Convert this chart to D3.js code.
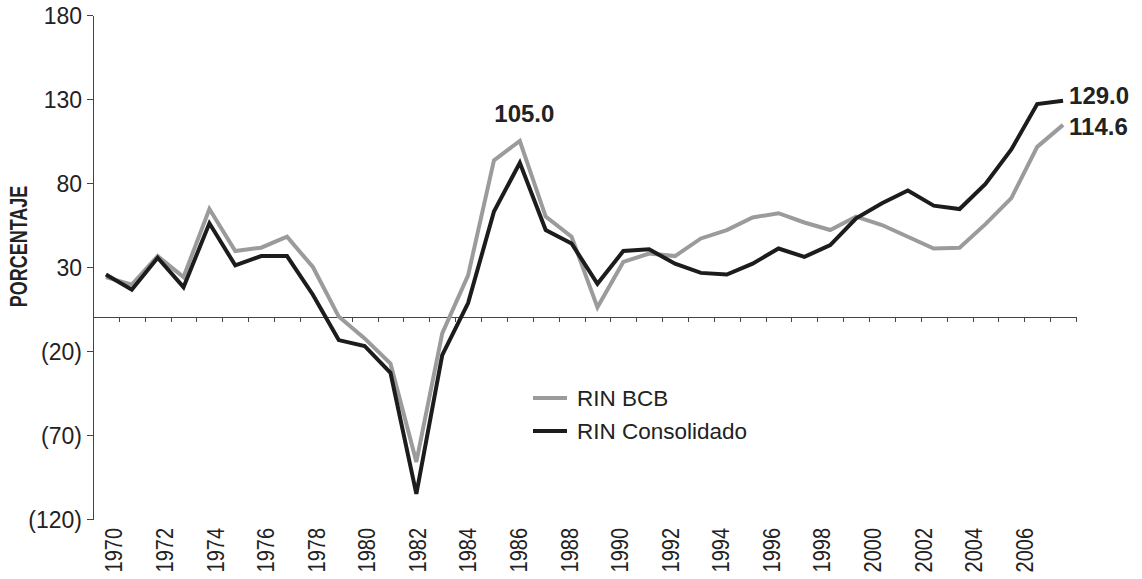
<!DOCTYPE html>
<html>
<head>
<meta charset="utf-8">
<title>RIN</title>
<script src="https://cdn.jsdelivr.net/npm/d3@7"></script>
<style>
  body { margin: 0; background: #fff; }
  svg text { font-family: "Liberation Sans", Arial, sans-serif; fill: #222; }
  .axis path, .axis line { stroke: #444; shape-rendering: crispEdges; }
</style>
</head>
<body>
<div id="chart"></div>
<script>

// years 1970 - 2007
var years = d3.range(1970, 2008);
var rinBCB = [24, 19.5, 36.5, 24, 64.5, 39.5, 41.5, 48, 30, 0.5, -12.5, -27.5, -86, -9.5, 25, 93.5, 105.0, 60, 48, 6, 33, 38, 36.5, 47, 52, 59.5, 62, 56.5, 52, 60, 55, 48, 41, 41.5, 55.5, 71, 101.5, 114.6];
var rinConsolidado = [25.5, 16.5, 35.5, 18, 56, 31, 36.5, 36.5, 13.5, -13.5, -17, -33, -105, -22.5, 8.5, 63, 92, 52, 44, 20, 39.5, 40.5, 32, 26.5, 25.5, 32, 41, 36, 43, 59, 68, 75.5, 66.5, 64.5, 79.5, 100, 127, 129.0];
var yTicks = [180, 130, 80, 30, -20, -70, -120];
var labelYears = d3.range(1970, 2007, 2);
var seriesNames = ["RIN BCB", "RIN Consolidado"];
var seriesColors = ["#9b9b9b", "#1c1c1c"];

var width = 1142;
var height = 579;

var svg = d3.select("#chart").append("svg")
  .attr("width", width)
  .attr("height", height);

var x = d3.scaleBand()
  .domain(years)
  .range([93, 1076]);
var bw = x.bandwidth();
function cx(yr) { return x(yr) + bw / 2; }

var y = d3.scaleLinear()
  .domain([-120, 180])
  .range([519, 15]);

// y axis
svg.append("g")
  .attr("class", "axis")
  .attr("transform", "translate(93,0)")
  .call(d3.axisLeft(y)
    .tickValues(yTicks)
    .tickSize(6)
    .tickPadding(5)
    .tickSizeOuter(0)
    .tickFormat(function(d) { return d < 0 ? "(" + (-d) + ")" : d; }))
  .call(function(g) {
    g.selectAll("text")
      .style("font-size", "23px")
      .attr("dy", "0.35em");
  });

// x axis at zero, ticks between categories
var edge = d3.scaleLinear().domain([0, years.length]).range(x.range());
svg.append("g")
  .attr("class", "axis")
  .attr("transform", "translate(0," + y(0) + ")")
  .call(d3.axisBottom(edge)
    .tickValues(d3.range(years.length + 1))
    .tickSize(5)
    .tickSizeOuter(0)
    .tickFormat(""));

// year labels (the original drifts slightly left of the categories)
var labelX = d3.scaleLinear()
  .domain([1970, 2006])
  .range([cx(1970) + 8, cx(2006) - 13]);

svg.append("g").selectAll("text")
  .data(labelYears)
  .enter()
  .append("text")
    .attr("transform", function(d) { return "translate(" + labelX(d) + ",528) scale(1.22,1) rotate(-90)"; })
    .attr("text-anchor", "end")
    .attr("dy", "0.35em")
    .style("font-size", "20px")
    .text(function(d) { return d; });

// axis title
svg.append("text")
  .attr("transform", "translate(18.5,246.5) scale(1.32,1) rotate(-90)")
  .attr("text-anchor", "middle")
  .attr("dy", "0.35em")
  .style("font-size", "18px")
  .style("font-weight", "bold")
  .text("PORCENTAJE");

// lines
var line = d3.line()
  .x(function(d, i) { return cx(years[i]); })
  .y(function(d) { return y(d); });

[rinBCB, rinConsolidado].forEach(function(s, k) {
  svg.append("path")
    .datum(s)
    .attr("fill", "none")
    .attr("stroke", seriesColors[k])
    .attr("stroke-width", 4)
    .attr("stroke-linejoin", "miter")
    .attr("d", line);
});

// value labels
var last = years.length - 1;
svg.append("text")
  .attr("x", cx(1986) + 4.5)
  .attr("y", y(rinBCB[16]) - 19)
  .attr("text-anchor", "middle")
  .style("font-size", "24px")
  .style("font-weight", "bold")
  .text(d3.format(".1f")(rinBCB[16]));

svg.append("text")
  .attr("x", cx(years[last]) + 6)
  .attr("y", y(rinConsolidado[last]) + 3.5)
  .style("font-size", "24px")
  .style("font-weight", "bold")
  .text(d3.format(".1f")(rinConsolidado[last]));

svg.append("text")
  .attr("x", cx(years[last]) + 6)
  .attr("y", y(rinBCB[last]) + 10)
  .style("font-size", "24px")
  .style("font-weight", "bold")
  .text(d3.format(".1f")(rinBCB[last]));

// legend
var legend = svg.append("g")
  .attr("transform", "translate(533,398)");

var item = legend.selectAll("g")
  .data(seriesNames)
  .enter()
  .append("g")
    .attr("transform", function(d, i) { return "translate(0," + (i * 33) + ")"; });

item.append("line")
  .attr("x1", 0).attr("x2", 34)
  .attr("stroke", function(d, i) { return seriesColors[i]; })
  .attr("stroke-width", 4);

item.append("text")
  .attr("x", 44)
  .attr("dy", "0.35em")
  .style("font-size", "22.5px")
  .text(function(d) { return d; });

</script>
</body>
</html>
